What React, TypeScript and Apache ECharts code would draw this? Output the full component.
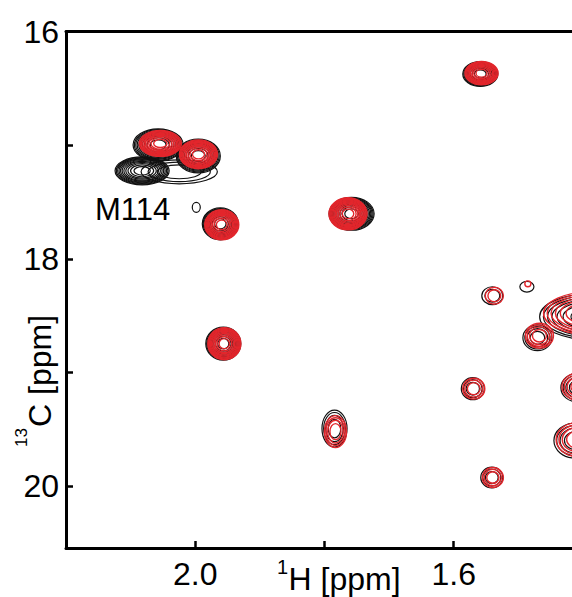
import React, { useEffect, useRef } from "react";
import * as echarts from "echarts";

// x: 1H ppm, y: 13C ppm, rx/ry: outer contour half-widths (ppm), n: number of contour levels
const redPeaks: number[][] = [
  [1.557, 16.367, 0.0256, 0.103, 9],
  [2.054, 16.985, 0.0326, 0.114, 10],
  [1.995, 17.081, 0.0295, 0.127, 10],
  [1.959, 17.701, 0.0264, 0.132, 10],
  [1.7636, 17.604, 0.0295, 0.141, 11],
  [1.955, 18.747, 0.0256, 0.141, 10],
  [1.783, 19.521, 0.0171, 0.141, 4],
  [1.5372, 18.325, 0.014, 0.075, 2],
  [1.4853, 18.22, 0.0047, 0.026, 1],
  [1.4674, 18.677, 0.0217, 0.11, 4],
  [1.386, 18.48, 0.075, 0.19, 7],
  [1.4047, 19.125, 0.0279, 0.123, 4],
  [1.409, 19.591, 0.0326, 0.149, 4],
  [1.569, 19.143, 0.0171, 0.092, 3],
  [1.5395, 19.925, 0.0163, 0.088, 3],
];

const blackPeaks: number[][] = [
  [1.5589, 16.374, 0.0271, 0.11, 9],
  [2.0248, 17.235, 0.059, 0.105, 3],
  [2.0574, 16.998, 0.0388, 0.141, 10],
  [1.9953, 17.095, 0.0341, 0.149, 10],
  [2.0822, 17.226, 0.0419, 0.123, 11],
  [1.9984, 17.547, 0.0062, 0.044, 1],
  [1.9612, 17.692, 0.0279, 0.141, 10],
  [1.7581, 17.604, 0.0349, 0.145, 11],
  [1.9566, 18.747, 0.0271, 0.145, 10],
  [1.7845, 19.494, 0.0194, 0.163, 4],
  [1.5403, 18.325, 0.0163, 0.079, 2],
  [1.4868, 18.246, 0.0109, 0.047, 1],
  [1.4705, 18.695, 0.0225, 0.114, 4],
  [1.3891, 18.51, 0.078, 0.2, 7],
  [1.4078, 19.134, 0.0264, 0.127, 4],
  [1.4124, 19.6, 0.0326, 0.154, 4],
  [1.5705, 19.143, 0.0178, 0.097, 3],
  [1.5411, 19.925, 0.0171, 0.092, 3],
];

const xTicks = [2.0, 1.8, 1.6];
const xLabels = [2.0, 1.6];
const peakLabel = "M114";

const FONT = "'Liberation Sans', Arial, Helvetica, sans-serif";
const RED = "#e3262c";
const BLACK = "#111111";

function makeRender(color: string, lw: number) {
  return (params: any, api: any) => {
    const x = api.value(0);
    const y = api.value(1);
    const rx = api.value(2);
    const ry = api.value(3);
    const n = api.value(4);
    const c = api.coord([x, y]);
    const s = api.size([rx, ry], [x, y]);
    const RX = Math.abs(s[0]);
    const RY = Math.abs(s[1]);
    const children: any[] = [];
    for (let k = 0; k < n; k++) {
      const f = Math.sqrt(1 - k / n);
      children.push({
        type: "ellipse",
        shape: { cx: c[0], cy: c[1], rx: RX * f, ry: RY * f },
        style: { fill: "none", stroke: color, lineWidth: lw },
      });
    }
    return { type: "group", children };
  };
}

export default function App() {
  const ref = useRef<HTMLDivElement>(null);
  useEffect(() => {
    if (!ref.current) return;
    const chart = echarts.init(ref.current, null, { renderer: "svg" });
    const xMin = 1.417;
    const xMax = 2.2;
    chart.setOption({
      animation: false,
      backgroundColor: "#ffffff",
      grid: { left: 66, top: 31.5, right: 0, bottom: 49 },
      xAxis: [
        {
          type: "value",
          inverse: true,
          min: xMin,
          max: xMax,
          position: "bottom",
          axisLine: { show: true, onZero: false, lineStyle: { color: "#000", width: 3 } },
          axisTick: {
            show: true,
            inside: true,
            length: 7,
            customValues: xTicks,
            lineStyle: { color: "#000", width: 2.5 },
          },
          axisLabel: {
            show: true,
            customValues: xLabels,
            formatter: (v: number) => v.toFixed(1),
            fontSize: 32,
            fontFamily: FONT,
            color: "#000",
            margin: 10,
          },
          splitLine: { show: false },
        },
        {
          type: "value",
          inverse: true,
          min: xMin,
          max: xMax,
          position: "top",
          axisLine: { show: true, onZero: false, lineStyle: { color: "#000", width: 3 } },
          axisTick: { show: false },
          axisLabel: { show: false },
          splitLine: { show: false },
        },
      ],
      yAxis: {
        type: "value",
        inverse: true,
        min: 16,
        max: 20.545,
        interval: 1,
        axisLine: { show: true, onZero: false, lineStyle: { color: "#000", width: 3 } },
        axisTick: { show: true, inside: true, length: 7, lineStyle: { color: "#000", width: 2.5 } },
        axisLabel: {
          formatter: (v: number) => (Math.round(v) % 2 === 0 ? String(Math.round(v)) : ""),
          fontSize: 32,
          fontFamily: FONT,
          color: "#000",
          margin: 7,
        },
        splitLine: { show: false },
      },
      series: [
        {
          type: "custom",
          name: "reference",
          xAxisIndex: 0,
          clip: true,
          renderItem: makeRender(BLACK, 1.2),
          encode: { x: 0, y: 1 },
          data: blackPeaks,
          silent: true,
        },
        {
          type: "custom",
          name: "overlay",
          xAxisIndex: 0,
          clip: true,
          renderItem: makeRender(RED, 1.4),
          encode: { x: 0, y: 1 },
          data: redPeaks,
          silent: true,
        },
      ],
      graphic: [
        {
          type: "text",
          x: 95,
          y: 194,
          style: { text: peakLabel, font: `31px ${FONT}`, fill: "#000", textAlign: "left", textVerticalAlign: "top" },
        },
        {
          type: "text",
          x: 288,
          y: 557,
          style: { text: "1", font: `20px ${FONT}`, fill: "#000", textAlign: "right", textVerticalAlign: "top" },
        },
        {
          type: "text",
          x: 288.5,
          y: 563,
          style: { text: "H [ppm]", font: `32px ${FONT}`, fill: "#000", textAlign: "left", textVerticalAlign: "top" },
        },
        {
          type: "text",
          x: 12.8,
          y: 447,
          rotation: Math.PI / 2,
          style: { text: "13", font: `17px ${FONT}`, fill: "#000", textAlign: "left", textVerticalAlign: "top" },
        },
        {
          type: "text",
          x: 24,
          y: 427,
          rotation: Math.PI / 2,
          style: { text: "C [ppm]", font: `32px ${FONT}`, fill: "#000", textAlign: "left", textVerticalAlign: "top" },
        },
      ],
    });
    return () => chart.dispose();
  }, []);
  return (
    <div
      ref={ref}
      style={{ position: "fixed", left: 0, top: 0, width: 572, height: 597, background: "#fff" }}
    />
  );
}
